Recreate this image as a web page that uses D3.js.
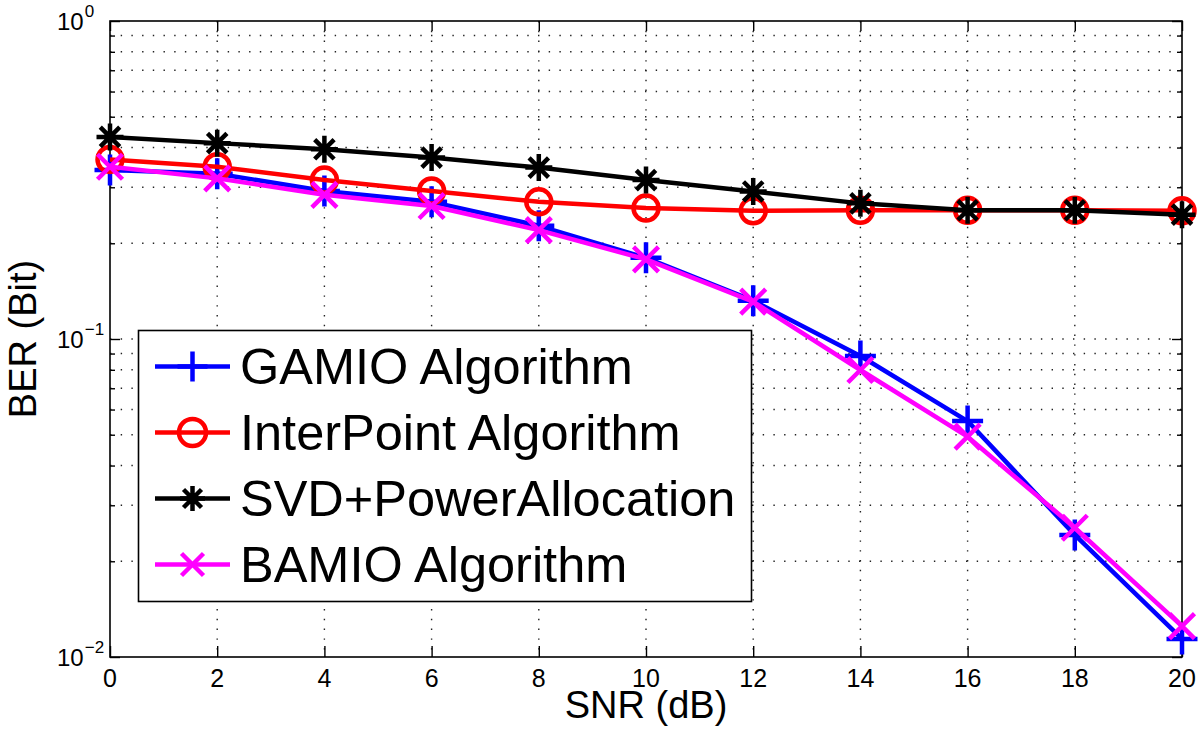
<!DOCTYPE html>
<html>
<head>
<meta charset="utf-8">
<script src="https://d3js.org/d3.v7.min.js"></script>
<style>
  html, body { margin: 0; padding: 0; background: #fff; }
  svg { display: block; font-family: "Liberation Sans", Arial, Helvetica, sans-serif; }
</style>
</head>
<body>
<svg id="chart" width="1200" height="738"></svg>
<script>
const snr = [0, 2, 4, 6, 8, 10, 12, 14, 16, 18, 20];
const gamio = [0.340, 0.331, 0.292, 0.270, 0.227, 0.180, 0.132, 0.0884, 0.0552, 0.0242, 0.0114];
const interPoint = [0.367, 0.348, 0.316, 0.292, 0.270, 0.258, 0.253, 0.254, 0.254, 0.254, 0.253];
const svdPower = [0.432, 0.413, 0.395, 0.372, 0.346, 0.316, 0.291, 0.267, 0.254, 0.254, 0.246];
const bamio = [0.348, 0.320, 0.284, 0.262, 0.220, 0.178, 0.131, 0.0799, 0.0493, 0.0255, 0.0125];
const seriesNames = ["GAMIO Algorithm", "InterPoint Algorithm", "SVD+PowerAllocation", "BAMIO Algorithm"];
const seriesColors = ["#0000ff", "#ff0000", "#000000", "#ff00ff"];
const seriesMarkers = ["plus", "circle", "star", "cross"];
const xTicks = [0, 2, 4, 6, 8, 10, 12, 14, 16, 18, 20];
const yMajorExp = [0, -1, -2];

const series = [gamio, interPoint, svdPower, bamio].map((vals, i) => ({
  name: seriesNames[i], color: seriesColors[i], marker: seriesMarkers[i],
  points: snr.map((s, j) => ({ x: s, y: vals[j] }))
}));

const L = 110, R = 1182, T = 21, B = 657;
const svg = d3.select("#chart");
const x = d3.scaleLinear().domain([0, 20]).range([L, R]);
const y = d3.scaleLog().domain([0.01, 1]).range([B, T]);

const yMinor = [];
for (let e = -2; e < 0; e++) for (let m = 2; m <= 9; m++) yMinor.push(m * Math.pow(10, e));
const yAllGrid = yMinor.concat([0.1]);

// grid
const grid = svg.append("g");
grid.selectAll("line.hg").data(yAllGrid).join("line")
  .attr("x1", L).attr("x2", R).attr("y1", d => y(d)).attr("y2", d => y(d))
  .attr("stroke", "#222").attr("stroke-width", 1.4).attr("stroke-dasharray", "1.4,9.3");
grid.selectAll("line.vg").data(xTicks.slice(1, -1)).join("line")
  .attr("x1", d => x(d)).attr("x2", d => x(d)).attr("y1", T).attr("y2", B)
  .attr("stroke", "#222").attr("stroke-width", 1.4).attr("stroke-dasharray", "1.4,8.4");

// ticks (inside)
const axB = svg.append("g").attr("transform", `translate(0,${B})`)
  .call(d3.axisTop(x).tickValues(xTicks).tickSize(11).tickFormat(""));
const axT = svg.append("g").attr("transform", `translate(0,${T})`)
  .call(d3.axisBottom(x).tickValues(xTicks).tickSize(10).tickFormat(""));
const axLmaj = svg.append("g").attr("transform", `translate(${L},0)`)
  .call(d3.axisRight(y).tickValues([0.01, 0.1, 1]).tickSize(10).tickFormat(""));
const axLmin = svg.append("g").attr("transform", `translate(${L},0)`)
  .call(d3.axisRight(y).tickValues(yMinor).tickSize(5).tickFormat(""));
const axRmaj = svg.append("g").attr("transform", `translate(${R},0)`)
  .call(d3.axisLeft(y).tickValues([0.01, 0.1, 1]).tickSize(10).tickFormat(""));
const axRmin = svg.append("g").attr("transform", `translate(${R},0)`)
  .call(d3.axisLeft(y).tickValues(yMinor).tickSize(5).tickFormat(""));
[axB, axT, axLmaj, axLmin, axRmaj, axRmin].forEach(g => {
  g.select(".domain").remove();
  g.selectAll(".tick line").attr("stroke", "#000").attr("stroke-width", 1.4);
});

// frame
svg.append("rect").attr("x", L).attr("y", T).attr("width", R - L).attr("height", B - T)
  .attr("fill", "none").attr("stroke", "#000").attr("stroke-width", 1.6);

// x tick labels
svg.append("g").selectAll("text").data(xTicks).join("text")
  .attr("x", d => x(d)).attr("y", 687)
  .attr("text-anchor", "middle").attr("font-size", 25).attr("fill", "#000")
  .text(d => d);

// y tick labels 10^e
const yl = svg.append("g").selectAll("text").data(yMajorExp).join("text")
  .attr("x", 57).attr("y", d => y(Math.pow(10, d)) + 8.5)
  .attr("text-anchor", "start").attr("font-size", 24).attr("fill", "#000");
yl.append("tspan").text("10");
yl.append("tspan").attr("dy", -13).attr("dx", 1).attr("font-size", 17)
  .text(d => d === 0 ? "0" : "\u2212" + Math.abs(d));

// axis titles
svg.append("text").attr("x", (L + R) / 2).attr("y", 718).attr("text-anchor", "middle")
  .attr("font-size", 38).attr("fill", "#000").text("SNR (dB)");
svg.append("text").attr("transform", `translate(36,${(T + B) / 2}) rotate(-90)`)
  .attr("text-anchor", "middle").attr("font-size", 38).attr("fill", "#000").text("BER (Bit)");

function drawMarker(g, type, color, size) {
  const h = size / 2;
  let d;
  if (type === "plus") {
    d = `M${-h},0H${h}M0,${-h}V${h}`;
  } else if (type === "circle") {
    g.append("circle").attr("r", h).attr("fill", "none")
      .attr("stroke", color).attr("stroke-width", 4.5);
    return;
  } else if (type === "star") {
    const k = h * 0.72;
    d = `M${-h},0H${h}M0,${-h}V${h}M${-k},${-k}L${k},${k}M${-k},${k}L${k},${-k}`;
  } else {
    d = `M${-h},${-h}L${h},${h}M${-h},${h}L${h},${-h}`;
  }
  g.append("path").attr("d", d).attr("stroke", color).attr("stroke-width", 4.5).attr("fill", "none");
}
const markerSize = { plus: 31, circle: 25, star: 27, cross: 25 };
const legendMarkerSize = { plus: 30, circle: 27, star: 25, cross: 22 };

const line = d3.line().x(d => x(d.x)).y(d => y(d.y));
const plot = svg.append("g");
series.forEach(s => {
  const g = plot.append("g");
  g.append("path").datum(s.points).attr("d", line)
    .attr("fill", "none").attr("stroke", s.color).attr("stroke-width", 4.5)
    .attr("stroke-linejoin", "round");
  s.points.forEach(p => {
    const mg = g.append("g").attr("transform", `translate(${x(p.x)},${y(p.y)})`);
    drawMarker(mg, s.marker, s.color, markerSize[s.marker]);
  });
});

// legend
const lg = svg.append("g");
lg.append("rect").attr("x", 138.5).attr("y", 330.5).attr("width", 613).attr("height", 271)
  .attr("fill", "#fff").attr("stroke", "#000").attr("stroke-width", 1.6);
const rowY = [366.5, 432.5, 498.5, 564.5];
series.forEach((s, i) => {
  const g = lg.append("g").attr("transform", `translate(0,${rowY[i]})`);
  g.append("line").attr("x1", 155).attr("x2", 230).attr("y1", 0).attr("y2", 0)
    .attr("stroke", s.color).attr("stroke-width", 4.5);
  const mg = g.append("g").attr("transform", "translate(192.5,0)");
  drawMarker(mg, s.marker, s.color, legendMarkerSize[s.marker]);
  g.append("text").attr("x", 240).attr("y", 17.5).attr("font-size", 50.5).attr("fill", "#000")
    .text(s.name);
});
</script>
</body>
</html>
